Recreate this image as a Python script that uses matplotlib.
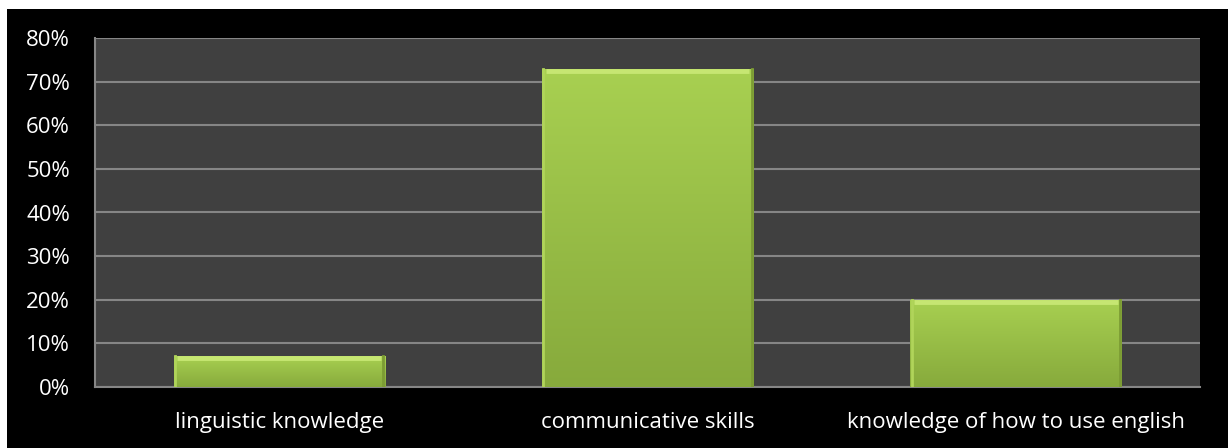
import numpy as np
import matplotlib
matplotlib.use('Agg')
import matplotlib.pyplot as plt
from matplotlib.patches import Rectangle
from matplotlib.colors import LinearSegmentedColormap

categories = ['linguistic knowledge', 'communicative skills', 'knowledge of how to use english']
values = [7, 73, 20]
yticks = [0, 10, 20, 30, 40, 50, 60, 70, 80]

plt.rcParams['font.family'] = ['Open Sans', 'DejaVu Sans']

fig = plt.figure(figsize=(12.28, 4.48), dpi=100, facecolor='white')
# black chart background with a thin white margin top/left
fig.patches.append(Rectangle((7 / 1228, 0), 1, 1 - 9 / 448, transform=fig.transFigure,
                             facecolor='black', edgecolor='none', zorder=-10))

ax = fig.add_axes([95 / 1228, 61 / 448, 1105 / 1228, 349 / 448])
ax.set_facecolor('#404040')

x = np.arange(len(categories))
bars = ax.bar(x, values, width=0.573, color='#9cc24a', zorder=3)

# vertical gradient on each bar
cmap = LinearSegmentedColormap.from_list('g', ['#87aa3c', '#a8d051'])
grad = np.linspace(0, 1, 256).reshape(-1, 1)
for b in bars:
    x0, y0 = b.get_x(), b.get_y()
    w, h = b.get_width(), b.get_height()
    im = ax.imshow(grad, extent=[x0, x0 + w, y0, y0 + h], origin='lower',
                   cmap=cmap, aspect='auto', zorder=4)
    im.set_clip_path(b)
    # bevel highlights
    ax.plot([x0 + 0.01, x0 + w - 0.01], [y0 + h - 0.45, y0 + h - 0.45],
            color='#c6e672', lw=3.5, zorder=5, solid_capstyle='butt')
    ax.plot([x0 + 0.004, x0 + 0.004], [y0, y0 + h], color='#b0d45a', lw=2, zorder=5)
    ax.plot([x0 + w - 0.004, x0 + w - 0.004], [y0, y0 + h], color='#7c9c34', lw=2, zorder=5)

ax.set_xlim(-0.5, len(categories) - 0.5)
ax.set_ylim(0, 80)
ax.set_yticks(yticks)
ax.set_yticklabels([f'{t}%' for t in yticks])
ax.set_xticks(x)
ax.set_xticklabels(categories)
ax.yaxis.grid(True, color='#868686', lw=1.5, zorder=1)
ax.set_axisbelow(True)

for s in ['top', 'right']:
    ax.spines[s].set_visible(False)
for s in ['left', 'bottom']:
    ax.spines[s].set_color('#868686')
    ax.spines[s].set_linewidth(1.5)

ax.tick_params(axis='y', length=0, pad=18, labelsize=16, labelcolor='white')
ax.tick_params(axis='x', length=0, pad=18, labelsize=16, labelcolor='white')

fig.savefig('out.png', dpi=100, facecolor=fig.get_facecolor())
